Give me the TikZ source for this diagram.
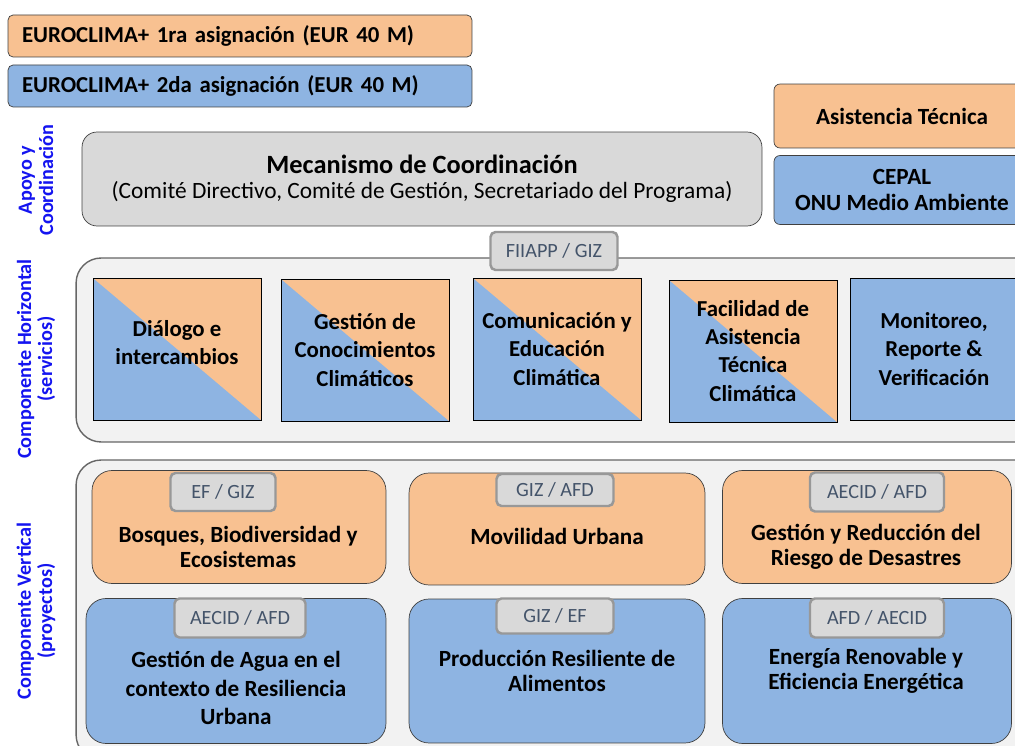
\documentclass[tikz,border=0pt]{standalone}
\usepackage{fontspec}
\setmainfont{Carlito}
\usetikzlibrary{positioning}
\definecolor{naranja}{RGB}{248,193,145}
\definecolor{azul}{RGB}{142,180,226}
\definecolor{gris}{RGB}{217,217,217}
\definecolor{fondo}{RGB}{242,242,242}
\definecolor{borde}{RGB}{64,64,64}
\definecolor{tabtexto}{RGB}{68,84,106}
\definecolor{etiqueta}{RGB}{20,20,240}

\begin{document}
\begin{tikzpicture}[x=0.02cm,y=-0.02cm,
  banda/.style={draw=borde,rounded corners=1mm,minimum height=0.84cm,text width=8.72cm,inner xsep=0.28cm,align=left,font=\bfseries\fontsize{13}{15}\selectfont},
  caja/.style={draw=borde,rounded corners=1.2mm,minimum width=5.12cm,align=center,font=\bfseries\fontsize{13.2}{14.5}\selectfont},
  panel/.style={draw=borde!80,fill=fondo,rounded corners=5mm,line width=0.8pt},
  cuadro/.style={draw=black,fill=azul,minimum width=3.36cm,minimum height=2.84cm,align=center,font=\bfseries\fontsize{13}{16}\selectfont},
  mitad/.style={cuadro,path picture={\fill[naranja] (path picture bounding box.north west) -- (path picture bounding box.north east) -- (path picture bounding box.south east) -- cycle;}},
  proyecto/.style={draw=borde,rounded corners=4mm},
  pestana/.style={draw=gris!70!black,line width=1.4pt,fill=gris,rounded corners=1mm,text=tabtexto,font=\fontsize{11.5}{13}\selectfont},
  texto/.style={align=center,font=\bfseries\fontsize{13.2}{14.5}\selectfont},
  eje/.style={rotate=90,align=center,text=etiqueta,font=\bfseries\fontsize{11.5}{12}\selectfont}]
  \useasboundingbox (0,0) rectangle (1015,746);
  \clip (0,0) rectangle (1015,746);

  % asignaciones
  \node[banda,fill=naranja] (primera) at (240,36) {EUROCLIMA+ 1ra asignación (EUR 40 M)};
  \node[banda,fill=azul] (segunda) at (240,86) {EUROCLIMA+ 2da asignación (EUR 40 M)};

  % apoyo y coordinacion
  \node[caja,fill=naranja,minimum height=1.28cm] (asistencia) at (902,116) {Asistencia Técnica};
  \node[caja,fill=azul,minimum height=1.38cm] (cepal) at (902,190) {CEPAL\\ONU Medio Ambiente};
  \node[draw=borde,fill=gris,rounded corners=3mm,minimum width=13.6cm,minimum height=1.88cm,align=center] (mecanismo) at (422,179)
    {{\bfseries\fontsize{15}{18}\selectfont Mecanismo de Coordinación}\\[2pt]{\fontsize{13.3}{15}\selectfont (Comité Directivo, Comité de Gestión, Secretariado del Programa)}};

  % componente horizontal
  \node[panel,minimum width=19.28cm,minimum height=3.68cm] (horizontal) at (558,350) {};
  \node[pestana,minimum width=2.54cm,minimum height=0.76cm] (fiiapp) at (554,251) {FIIAPP / GIZ};
  \node[mitad] (dialogo) at (177,349) {Diálogo e\\intercambios\\[-9pt]\mbox{}};
  \node[mitad] (conocimiento) at (365,350) {Gestión de\\Conocimientos\\Climáticos};
  \node[mitad] (comunicacion) at (557,349) {Comunicación y\\Educación\\Climática};
  \node[mitad] (facilidad) at (753,351) {Facilidad de\\Asistencia\\Técnica\\Climática};
  \node[cuadro] (monitoreo) at (934,349) {Monitoreo,\\Reporte \&\\Verificación};

  % componente vertical
  \node[panel,minimum width=19.28cm,minimum height=6cm] (vertical) at (558,610) {};
  \node[proyecto,fill=naranja,minimum width=5.88cm,minimum height=2.26cm] (bosques) at (239,527) {};
  \node[proyecto,fill=naranja,minimum width=5.92cm,minimum height=2.24cm] (movilidad) at (557,529) {};
  \node[proyecto,fill=naranja,minimum width=5.78cm,minimum height=2.26cm] (riesgo) at (867,527) {};
  \node[proyecto,fill=azul,minimum width=6cm,minimum height=2.9cm] (agua) at (236,671) {};
  \node[proyecto,fill=azul,minimum width=5.92cm,minimum height=2.88cm] (alimentos) at (557,671) {};
  \node[proyecto,fill=azul,minimum width=5.78cm,minimum height=2.9cm] (energia) at (867,671) {};

  \node[pestana,minimum width=2.1cm,minimum height=0.76cm] (efgiz) at (223,492) {EF / GIZ};
  \node[pestana,minimum width=2.34cm,minimum height=0.64cm] (gizafd) at (555,490) {GIZ / AFD};
  \node[pestana,minimum width=2.68cm,minimum height=0.78cm] (aecidafd) at (877,492) {AECID / AFD};
  \node[pestana,minimum width=2.62cm,minimum height=0.78cm] (aecidafdb) at (240,618) {AECID / AFD};
  \node[pestana,minimum width=2.34cm,minimum height=0.7cm] (gizef) at (555,616) {GIZ / EF};
  \node[pestana,minimum width=2.68cm,minimum height=0.78cm] (afdaecid) at (877,618) {AFD / AECID};

  \node[texto] (tbosques) at (238,547) {Bosques, Biodiversidad y\\Ecosistemas};
  \node[texto] (tmovilidad) at (557,536) {Movilidad Urbana};
  \node[texto] (triesgo) at (866,547) {Gestión y Reducción del\\Riesgo de Desastres};
  \node[texto,font=\bfseries\fontsize{13.2}{16}\selectfont] (tagua) at (236,688) {Gestión de Agua en el\\contexto de Resiliencia\\Urbana};
  \node[texto] (talimentos) at (557,671) {Producción Resiliente de\\Alimentos};
  \node[texto] (tenergia) at (866,671) {Energía Renovable y\\Eficiencia Energética};

  % rotulos laterales
  \node[eje] (apoyo) at (36,180) {Apoyo y\\Coordinación};
  \node[eje] (ejehorizontal) at (36,359) {Componente Horizontal\\(servicios)};
  \node[eje] (ejevertical) at (36,611) {Componente Vertical\\(proyectos)};
\end{tikzpicture}
\end{document}
